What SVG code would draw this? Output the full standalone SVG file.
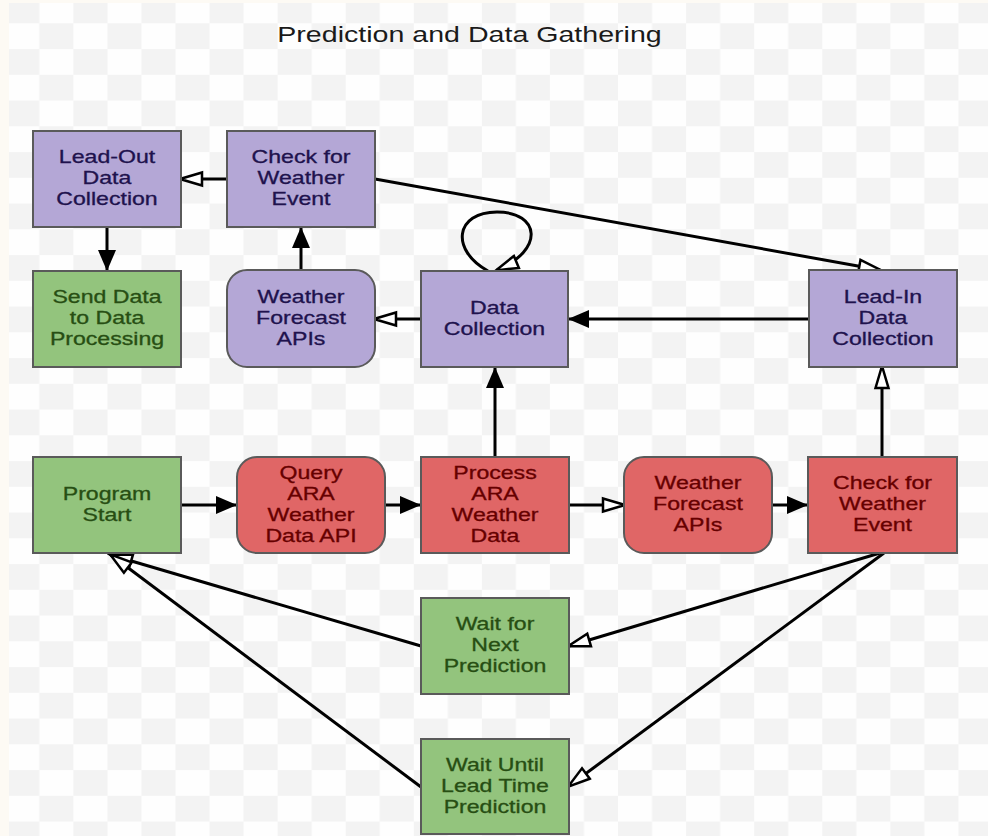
<svg xmlns="http://www.w3.org/2000/svg" width="988" height="836" viewBox="0 0 988 836">
<defs>
<pattern id="chk" patternUnits="userSpaceOnUse" x="5.3" y="-2.45" width="68.08" height="51.5">
<rect width="68.08" height="51.5" fill="#fefefe"/>
<rect width="34.04" height="25.75" fill="#f3f3f3"/>
<rect x="34.04" y="25.75" width="34.04" height="25.75" fill="#f3f3f3"/>
</pattern>
<marker id="fa" markerUnits="userSpaceOnUse" viewBox="0 0 21 18" markerWidth="21" markerHeight="18" refX="21" refY="9" orient="auto">
<path d="M0,0 L21,9 L0,18 z" fill="#000"/>
</marker>
<marker id="ha" markerUnits="userSpaceOnUse" viewBox="-3 -3 28 19" markerWidth="28" markerHeight="19" refX="21" refY="6.5" orient="auto">
<path d="M0,0 L22,6.5 L0,13 z" fill="#fff" stroke="#000" stroke-width="2.5" stroke-linejoin="miter"/>
</marker>
</defs>
<style>
.box{stroke:#5a5a5a;stroke-width:2}
.pu{fill:#b4a7d6}
.gr{fill:#93c47d}
.rd{fill:#e06666}
.t{font-family:"Liberation Sans",Arial,sans-serif;font-size:17.5px;text-anchor:middle;stroke-width:0.3px}
.tp{fill:#20124d;stroke:#20124d}
.tg{fill:#274e13;stroke:#274e13}
.tr{fill:#660000;stroke:#660000}
.c{fill:none;stroke:#000;stroke-width:3}
.f{marker-end:url(#fa)}
.h{marker-end:url(#ha)}
</style>
<rect width="988" height="836" fill="#fdfaf4"/>
<rect x="9" y="3" width="979" height="833" fill="url(#chk)"/>
<text transform="translate(469.5,0) scale(1.33,1)" x="0" y="42.5" style="font-family:'Liberation Sans',Arial,sans-serif;font-size:21.5px;text-anchor:middle;fill:#1a1a1a">Prediction and Data Gathering</text>

<g id="connectors">
<path class="c h" d="M227,179 L181,179"/>
<path class="c h" d="M375,179 L880,270"/>
<path class="c f" d="M107,227 L107,271"/>
<path class="c f" d="M301,270 L301,227"/>
<path class="c h" d="M421,319 L375,319"/>
<path class="c f" d="M809,319 L568,319"/>
<path class="c h" d="M488,271 C450,250 455,212 497,212 C540,212 545,250 497,270"/>
<path class="c f" d="M495,457 L495,367"/>
<path class="c h" d="M882,457 L882,367"/>
<path class="c f" d="M181,505 L237,505"/>
<path class="c f" d="M385,505 L421,505"/>
<path class="c h" d="M569,505 L624,505"/>
<path class="c f" d="M772,505 L808,505"/>
<path class="c h" d="M880,553 L569,646"/>
<path class="c h" d="M884,553 L569,786"/>
<path class="c h" d="M421,646 L111,555"/>
<path class="c h" d="M421,787 L111,555"/>
</g>

<g id="leadout">
<rect class="box pu" x="33" y="131" width="148" height="96"/>
<text class="t tp" transform="translate(107,0) scale(1.32,1)"><tspan x="0" y="163.5">Lead-Out</tspan><tspan x="0" y="184.5">Data</tspan><tspan x="0" y="205.5">Collection</tspan></text>
</g>
<g id="check-purple">
<rect class="box pu" x="227" y="131" width="148" height="96"/>
<text class="t tp" transform="translate(301,0) scale(1.32,1)"><tspan x="0" y="163.5">Check for</tspan><tspan x="0" y="184.5">Weather</tspan><tspan x="0" y="205.5">Event</tspan></text>
</g>
<g id="send-data">
<rect class="box gr" x="33" y="271" width="148" height="96"/>
<text class="t tg" transform="translate(107,0) scale(1.32,1)"><tspan x="0" y="303.5">Send Data</tspan><tspan x="0" y="324.5">to Data</tspan><tspan x="0" y="345.5">Processing</tspan></text>
</g>
<g id="forecast-purple">
<rect class="box pu" x="227" y="270" width="148" height="97" rx="20" ry="20"/>
<text class="t tp" transform="translate(301,0) scale(1.32,1)"><tspan x="0" y="303">Weather</tspan><tspan x="0" y="324">Forecast</tspan><tspan x="0" y="345">APIs</tspan></text>
</g>
<g id="data-collection">
<rect class="box pu" x="421" y="271" width="147" height="96"/>
<text class="t tp" transform="translate(494.5,0) scale(1.32,1)"><tspan x="0" y="314">Data</tspan><tspan x="0" y="335">Collection</tspan></text>
</g>
<g id="leadin">
<rect class="box pu" x="809" y="270" width="148" height="97"/>
<text class="t tp" transform="translate(883,0) scale(1.32,1)"><tspan x="0" y="303">Lead-In</tspan><tspan x="0" y="324">Data</tspan><tspan x="0" y="345">Collection</tspan></text>
</g>
<g id="program-start">
<rect class="box gr" x="33" y="457" width="148" height="96"/>
<text class="t tg" transform="translate(107,0) scale(1.32,1)"><tspan x="0" y="500">Program</tspan><tspan x="0" y="521">Start</tspan></text>
</g>
<g id="query">
<rect class="box rd" x="237" y="457" width="148" height="96" rx="20" ry="20"/>
<text class="t tr" transform="translate(311,0) scale(1.32,1)"><tspan x="0" y="479">Query</tspan><tspan x="0" y="500">ARA</tspan><tspan x="0" y="521">Weather</tspan><tspan x="0" y="542">Data API</tspan></text>
</g>
<g id="process">
<rect class="box rd" x="421" y="457" width="148" height="96"/>
<text class="t tr" transform="translate(495,0) scale(1.32,1)"><tspan x="0" y="479">Process</tspan><tspan x="0" y="500">ARA</tspan><tspan x="0" y="521">Weather</tspan><tspan x="0" y="542">Data</tspan></text>
</g>
<g id="forecast-red">
<rect class="box rd" x="624" y="457" width="148" height="96" rx="20" ry="20"/>
<text class="t tr" transform="translate(698,0) scale(1.32,1)"><tspan x="0" y="489.5">Weather</tspan><tspan x="0" y="510.5">Forecast</tspan><tspan x="0" y="531.5">APIs</tspan></text>
</g>
<g id="check-red">
<rect class="box rd" x="808" y="457" width="149" height="96"/>
<text class="t tr" transform="translate(882.5,0) scale(1.32,1)"><tspan x="0" y="489.5">Check for</tspan><tspan x="0" y="510.5">Weather</tspan><tspan x="0" y="531.5">Event</tspan></text>
</g>
<g id="wait-next">
<rect class="box gr" x="421" y="598" width="148" height="96"/>
<text class="t tg" transform="translate(495,0) scale(1.32,1)"><tspan x="0" y="630.5">Wait for</tspan><tspan x="0" y="651.5">Next</tspan><tspan x="0" y="672.5">Prediction</tspan></text>
</g>
<g id="wait-until">
<rect class="box gr" x="421" y="739" width="148" height="95"/>
<text class="t tg" transform="translate(495,0) scale(1.32,1)"><tspan x="0" y="771.5">Wait Until</tspan><tspan x="0" y="792.5">Lead Time</tspan><tspan x="0" y="813.5">Prediction</tspan></text>
</g>
</svg>
